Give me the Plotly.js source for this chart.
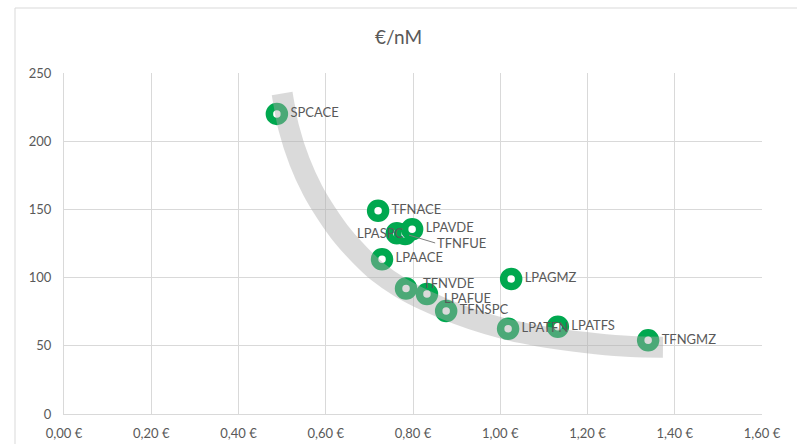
<!DOCTYPE html>
<html>
<head>
<meta charset="utf-8">
<script src="https://cdn.plot.ly/plotly-3.0.1.min.js"></script>
<style>html,body{margin:0;padding:0;background:#fff;}#chart{width:797px;height:444px;}</style>
</head>
<body>
<div id="chart"></div>
<script>
// Point data (€ per unit vs nM)
const names   = ["SPCACE","TFNACE","LPASPC","TFNFUE","LPAVDE","LPAACE","TFNVDE","LPAFUE","TFNSPC","LPAGMZ","LPATFN","LPATFS","TFNGMZ"];
const costEur = [0.488, 0.720, 0.763, 0.782, 0.798, 0.729, 0.784, 0.832, 0.876, 1.025, 1.018, 1.132, 1.339];
const valueNM = [220, 149, 132.5, 132, 135.5, 113.5, 92, 88, 75.5, 99, 62.5, 64, 54];
const labelPos = ["middle right","middle right","annot","annot","middle right","middle right","annot","annot","middle right","middle right","middle right","middle right","middle right"];

// Decorative trend band
const bandX = [0.50, 0.515, 0.54, 0.57, 0.60, 0.64, 0.68, 0.72, 0.77, 0.83, 0.90, 0.97, 1.05, 1.13, 1.22, 1.30, 1.373];
const bandY = [235, 210, 185, 164, 148, 130, 116, 104, 93, 83, 73.5, 66, 59.5, 55, 51.5, 49.5, 49];

// Axis ticks
const xTickVals = [0, 0.2, 0.4, 0.6, 0.8, 1.0, 1.2, 1.4, 1.6];
const xTickText = ["0,00 €","0,20 €","0,40 €","0,60 €","0,80 €","1,00 €","1,20 €","1,40 €","1,60 €"];
const yTickVals = [0, 50, 100, 150, 200, 250];
const yTickText = ["0","50","100","150","200","250"];

const GREEN = "#00A84F";
const TXT = "#595959";
const FONT = "Lato, 'Open Sans', sans-serif";

const markerTrace = {
  type: "scatter", mode: "markers", x: costEur, y: valueNM,
  marker: {symbol: "circle", size: 15, color: "#ffffff", line: {color: GREEN, width: 7.5}},
  hoverinfo: "skip", showlegend: false, cliponaxis: false
};
const bandTrace = {
  type: "scatter", mode: "lines", x: bandX, y: bandY,
  line: {color: "rgba(170,170,170,0.44)", width: 21, shape: "spline", smoothing: 0.8},
  hoverinfo: "skip", showlegend: false
};
const lx = [], ly = [], lt = [], lp = [];
names.forEach((n, i) => { if (labelPos[i] !== "annot") { lx.push(costEur[i]); ly.push(valueNM[i]); lt.push(n); lp.push(labelPos[i]); } });
const textTrace = {
  type: "scatter", mode: "markers+text", x: lx, y: ly, text: lt, textposition: lp,
  marker: {size: 20, color: "rgba(0,0,0,0)"},
  textfont: {family: FONT, size: 13, color: TXT},
  hoverinfo: "skip", showlegend: false, cliponaxis: false
};

function idx(n) { return names.indexOf(n); }
function labelAnn(n, xanchor, xshift, yshift) {
  const i = idx(n);
  return {x: costEur[i], y: valueNM[i], xref: "x", yref: "y", text: n, showarrow: false,
          xanchor: xanchor, yanchor: "middle", xshift: xshift, yshift: yshift,
          font: {family: FONT, size: 13, color: TXT}};
}
const fuIdx = idx("TFNFUE");
const layout = {
  width: 797, height: 444,
  margin: {l: 64, r: 35, t: 73, b: 30},
  paper_bgcolor: "#ffffff", plot_bgcolor: "#ffffff",
  font: {family: FONT, size: 13, color: TXT},
  title: {text: "€/nM", x: 0.5, xanchor: "center", y: 0.915, yanchor: "middle", font: {family: FONT, size: 19, color: TXT}},
  xaxis: {range: [0, 1.6], tickvals: xTickVals, ticktext: xTickText, showgrid: true, gridcolor: "#D9D9D9", gridwidth: 1,
          showline: true, linecolor: "#D9D9D9", zeroline: false, ticks: "", ticklabelstandoff: 7,
          tickfont: {family: FONT, size: 13, color: TXT}, fixedrange: true},
  yaxis: {range: [0, 250], tickvals: yTickVals, ticktext: yTickText, showgrid: true, gridcolor: "#D9D9D9", gridwidth: 1,
          showline: true, linecolor: "#D9D9D9", zeroline: false, ticks: "", ticklabelstandoff: 9,
          tickfont: {family: FONT, size: 13, color: TXT}, fixedrange: true},
  annotations: [{
    x: costEur[fuIdx], y: valueNM[fuIdx], xref: "x", yref: "y",
    text: names[fuIdx], showarrow: true, arrowhead: 0, arrowwidth: 1, arrowcolor: "#7f7f7f",
    ax: 30, ay: 9, xanchor: "left", yanchor: "middle", standoff: 4,
    font: {family: FONT, size: 13, color: TXT}
  },
    labelAnn("LPASPC", "right", 8, 0),
    labelAnn("TFNVDE", "left", 15, 6),
    labelAnn("LPAFUE", "left", 15, -4)
  ],
  shapes: [{type: "rect", xref: "paper", yref: "paper", x0: -0.0702, x1: 1.2, y0: -0.3, y1: 1.1906,
            line: {color: "#D9D9D9", width: 1}, fillcolor: "rgba(0,0,0,0)", layer: "below"}]
};

Plotly.newPlot("chart", [markerTrace, bandTrace, textTrace], layout, {staticPlot: true, displayModeBar: false});
</script>
</body>
</html>
